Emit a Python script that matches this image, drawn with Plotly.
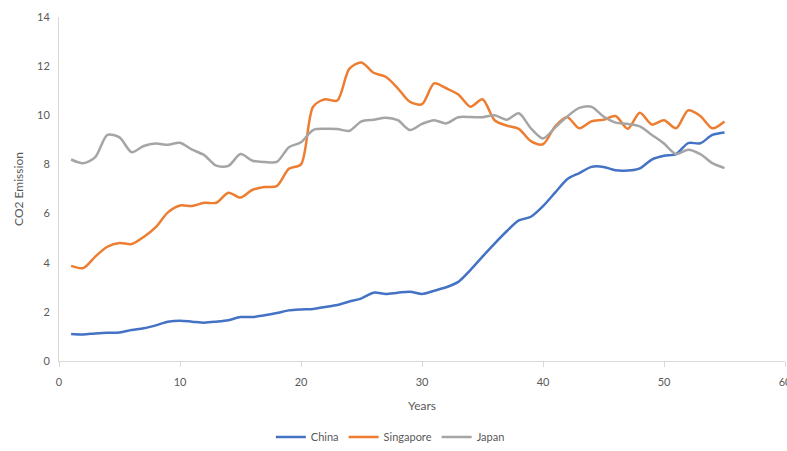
import plotly.graph_objects as go

years = list(range(1, 56))

china = [1.1, 1.08, 1.12, 1.15, 1.16, 1.26, 1.33, 1.45, 1.6, 1.64,
         1.6, 1.56, 1.6, 1.66, 1.79, 1.79, 1.86, 1.95, 2.06, 2.1,
         2.12, 2.2, 2.28, 2.42, 2.55, 2.78, 2.73, 2.78, 2.82, 2.73,
         2.86, 3.0, 3.22, 3.7, 4.25, 4.78, 5.28, 5.72, 5.87, 6.3,
         6.85, 7.4, 7.65, 7.9, 7.9, 7.76, 7.75, 7.84, 8.2, 8.35,
         8.42, 8.87, 8.86, 9.2, 9.3]

singapore = [3.87, 3.78, 4.25, 4.65, 4.8, 4.76, 5.05, 5.45, 6.05, 6.33,
             6.31, 6.44, 6.44, 6.85, 6.65, 6.97, 7.08, 7.12, 7.82, 8.0,
             10.35, 10.65, 10.6, 11.9, 12.15, 11.73, 11.57, 11.1, 10.55, 10.45,
             11.3, 11.1, 10.85, 10.35, 10.65, 9.8, 9.58, 9.45, 8.95, 8.82,
             9.55, 9.92, 9.47, 9.75, 9.82, 9.97, 9.45, 10.1, 9.62, 9.8,
             9.47, 10.2, 9.97, 9.47, 9.75]

japan = [8.2, 8.05, 8.3, 9.2, 9.1, 8.5, 8.75, 8.85, 8.8, 8.88,
         8.6, 8.38, 7.95, 7.94, 8.42, 8.15, 8.1, 8.1, 8.7, 8.9,
         9.4, 9.45, 9.44, 9.37, 9.75, 9.82, 9.9, 9.8, 9.4, 9.65,
         9.8, 9.67, 9.92, 9.93, 9.92, 10.0, 9.82, 10.08, 9.47, 9.06,
         9.5, 9.95, 10.3, 10.35, 9.95, 9.7, 9.65, 9.55, 9.2, 8.85,
         8.42, 8.6, 8.42, 8.05, 7.85]

series = [("China", china, "#4472C4"),
          ("Singapore", singapore, "#ED7D31"),
          ("Japan", japan, "#A5A5A5")]

x_ticks = [0, 10, 20, 30, 40, 50, 60]
y_ticks = [0, 2, 4, 6, 8, 10, 12, 14]

FONT = "Lato, Carlito, Calibri, 'Open Sans', sans-serif"
TXT = "#595959"

fig = go.Figure()
for name, vals, col in series:
    fig.add_trace(go.Scatter(
        x=years, y=vals, name=name, mode="lines",
        line=dict(color=col, width=2.5, shape="spline", smoothing=0.8),
    ))

fig.update_layout(
    width=787, height=451,
    margin=dict(l=59, r=2, t=17, b=90, autoexpand=False),
    paper_bgcolor="white", plot_bgcolor="white",
    font=dict(family=FONT, size=11, color=TXT),
    showlegend=True,
    legend=dict(orientation="h", xref="container", yref="container",
                x=0.496, xanchor="center", y=0.031, yanchor="middle",
                font=dict(size=11, color=TXT), itemwidth=30,
                tracegroupgap=0),
)
fig.update_xaxes(
    range=[0, 60], tickvals=x_ticks, ticktext=[str(v) for v in x_ticks],
    showgrid=False, zeroline=False, automargin=False,
    showline=True, linecolor="#D9D9D9", linewidth=1,
    ticks="outside", ticklen=5, tickcolor="#D9D9D9",
    ticklabeloverflow="allow", ticklabelstandoff=6,
    tickfont=dict(size=11, color=TXT),
    title=dict(text="Years", font=dict(size=12, color=TXT), standoff=14),
)
fig.update_yaxes(
    range=[0, 14], tickvals=y_ticks,
    showgrid=False, zeroline=False, automargin=False,
    showline=True, linecolor="#D9D9D9", linewidth=1,
    ticks="", ticklabelstandoff=6,
    tickfont=dict(size=11, color=TXT),
    title=dict(text="CO2 Emission", font=dict(size=12, color=TXT), standoff=10),
)

fig.write_html("out.html")
